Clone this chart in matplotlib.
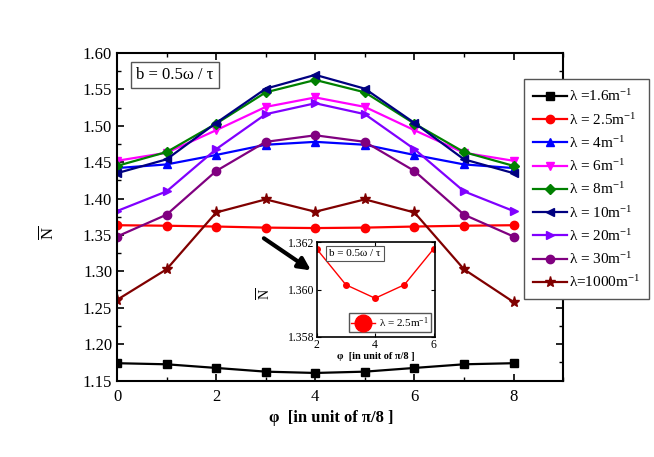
import numpy as np
import matplotlib
matplotlib.use("Agg")
import matplotlib.pyplot as plt
from matplotlib.ticker import MultipleLocator, FormatStrFormatter

plt.rcParams['font.family'] = ['Liberation Serif', 'DejaVu Serif']
plt.rcParams['mathtext.fontset'] = 'custom'
plt.rcParams['mathtext.rm'] = 'Liberation Serif'
plt.rcParams['mathtext.it'] = 'Liberation Serif:italic'
plt.rcParams['mathtext.bf'] = 'Liberation Serif:bold'

# phase in units of pi/8
phi = [0, 1, 2, 3, 4, 5, 6, 7, 8]

n_16 = [1.174, 1.1725, 1.1675, 1.1624, 1.1606, 1.1624, 1.1675, 1.1725, 1.174]
n_25 = [1.3635, 1.3628, 1.3617, 1.3602, 1.3596, 1.3602, 1.3617, 1.3628, 1.3635]
n_4 = [1.442, 1.447, 1.460, 1.474, 1.478, 1.474, 1.460, 1.447, 1.442]
n_6 = [1.452, 1.463, 1.494, 1.526, 1.539, 1.526, 1.494, 1.463, 1.452]
n_8 = [1.445, 1.464, 1.503, 1.546, 1.563, 1.546, 1.503, 1.464, 1.445]
n_10 = [1.435, 1.454, 1.504, 1.551, 1.570, 1.551, 1.504, 1.454, 1.435]
n_20 = [1.383, 1.410, 1.468, 1.516, 1.531, 1.516, 1.468, 1.410, 1.383]
n_30 = [1.348, 1.378, 1.438, 1.478, 1.487, 1.478, 1.438, 1.378, 1.348]
n_1000 = [1.261, 1.303, 1.381, 1.399, 1.382, 1.399, 1.381, 1.303, 1.258]

# inset: lambda = 2.5 m^-1, phi = 2..6
phi_in = [2, 3, 4, 5, 6]
n_in = [1.36172, 1.3602, 1.35963, 1.3602, 1.36172]

series = [
    (n_16, 'black', 's', 'λ =1.6m$^{-1}$'),
    (n_25, 'red', 'o', 'λ = 2.5m$^{-1}$'),
    (n_4, 'blue', '^', 'λ = 4m$^{-1}$'),
    (n_6, 'magenta', 'v', 'λ = 6m$^{-1}$'),
    (n_8, 'green', 'D', 'λ = 8m$^{-1}$'),
    (n_10, '#000080', '<', 'λ = 10m$^{-1}$'),
    (n_20, '#8000ff', '>', 'λ = 20m$^{-1}$'),
    (n_30, '#800080', 'o', 'λ = 30m$^{-1}$'),
    (n_1000, '#800000', '*', 'λ=1000m$^{-1}$'),
]

fig = plt.figure(figsize=(6.54, 4.57), dpi=100)
ax = fig.add_axes([0.179, 0.167, 0.682, 0.717])

for vals, col, mk, lab in series:
    ms = 8 if mk == '*' else 6
    if mk == 'D':
        ms = 5
    ax.plot(phi, vals, color=col, marker=mk, ms=ms, lw=1.6, label=lab)

ax.set_xlim(0, 9)
ax.set_ylim(1.15, 1.60)
ax.xaxis.set_major_locator(MultipleLocator(2))
ax.xaxis.set_minor_locator(MultipleLocator(1))
ax.yaxis.set_major_locator(MultipleLocator(0.05))
ax.yaxis.set_minor_locator(MultipleLocator(0.025))
ax.yaxis.set_major_formatter(FormatStrFormatter('%.2f'))
ax.tick_params(which='both', direction='in', top=True, right=True, labelsize=12)
ax.tick_params(which='major', length=5, width=1.2)
ax.tick_params(axis='x', which='major', pad=6)
ax.tick_params(which='minor', length=3, width=1.0)
for s in ax.spines.values():
    s.set_linewidth(1.5)

ax.set_xlabel('φ  [in unit of π/8 ]', fontsize=12, fontweight='bold')
ax.xaxis.set_label_coords(0.48, -0.09)
ax.set_ylabel(r'$\overline{\mathrm{N}}$', fontsize=12, rotation=90)
ax.yaxis.set_label_coords(-0.134, 0.45)

ax.text(0.13, 0.933, 'b = 0.5ω / τ', transform=ax.transAxes,
        fontsize=12, ha='center', va='center',
        bbox=dict(boxstyle='square,pad=0.3', fc='white', ec='#555555', lw=1))

fig.legend(loc='upper left', bbox_to_anchor=(0.801, 0.8265), fontsize=11,
           frameon=True, fancybox=False, edgecolor='#555555', framealpha=1,
           handlelength=2.2, labelspacing=0.48, borderpad=0.6,
           handletextpad=0.15, borderaxespad=0)

# arrow to inset
ax.annotate('', xy=(0.479, 0.405), xycoords='figure fraction',
            xytext=(0.400, 0.482), textcoords='figure fraction',
            arrowprops=dict(arrowstyle='-|>', color='black', lw=3,
                            mutation_scale=18))

# inset
axi = fig.add_axes([0.4842, 0.2632, 0.181, 0.2066])
axi.plot(phi_in, n_in, color='red', marker='o', ms=4, lw=1,
         label='λ = 2.5m$^{-1}$')
axi.set_xlim(2, 6.05)
axi.set_ylim(1.358, 1.362)
axi.set_xticks([2, 4, 6])
axi.set_yticks([1.358, 1.360, 1.362])
axi.yaxis.set_major_formatter(FormatStrFormatter('%.3f'))
axi.tick_params(direction='in', top=True, right=True, labelsize=8.5, length=3,
                pad=1.5)
for s in axi.spines.values():
    s.set_linewidth(1.2)
axi.set_xlabel('φ  [in unit of π/8 ]', fontsize=7.5,
               fontweight='bold', labelpad=1)
axi.set_ylabel(r'$\overline{\mathrm{N}}$', fontsize=10)
axi.yaxis.set_label_coords(-0.36, 0.45)
axi.text(0.324, 0.881, 'b = 0.5ω / τ', transform=axi.transAxes,
         fontsize=8, ha='center', va='center',
         bbox=dict(boxstyle='square,pad=0.25', fc='white', ec='#555555', lw=0.8))
axi.legend(loc='lower right', fontsize=8, markerscale=3, frameon=True,
           fancybox=False, edgecolor='#555555', framealpha=1,
           handlelength=2.2, borderpad=0.2, handletextpad=0.3,
           borderaxespad=0.4)

fig.savefig('out.png', dpi=100)
